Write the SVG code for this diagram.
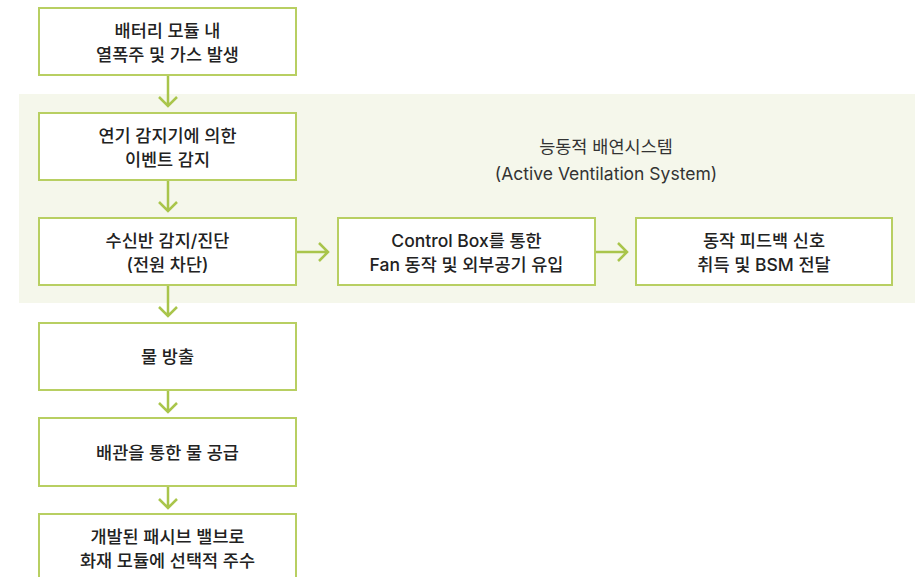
<svg xmlns="http://www.w3.org/2000/svg" width="918" height="577" viewBox="0 0 918 577">
<style>
.box{fill:#ffffff;stroke:#b8cf62;stroke-width:2}
.t{font-family:Inter,"Noto Sans CJK KR","Noto Sans",sans-serif;font-size:17.5px;font-weight:500;fill:#222;text-anchor:middle}
.title{font-family:Inter,"Noto Sans CJK KR","Noto Sans",sans-serif;font-size:17.5px;font-weight:400;fill:#333;text-anchor:middle}
.ln{fill:none;stroke:#a9c54b;stroke-width:2.5}
</style>
<rect x="0" y="0" width="918" height="577" fill="#ffffff"/>
<g id="panel">
<rect x="19" y="94" width="896" height="209" fill="#f5f7eb"/>
<text class="title" x="606" y="153">능동적 배연시스템</text>
<text class="title" x="606" y="180">(Active Ventilation System)</text>
</g>
<g id="connectors">
<path class="ln" d="M168 75V106M159 97L168 106L177 97"/>
<path class="ln" d="M168 180V211M159 202L168 211L177 202"/>
<path class="ln" d="M168 285V316M159 307L168 316L177 307"/>
<path class="ln" d="M168 390V412M159 403L168 412L177 403"/>
<path class="ln" d="M168 486V508M159 499L168 508L177 499"/>
<path class="ln" d="M296 252H328M319 243L328 252L319 261"/>
<path class="ln" d="M595 252H627M618 243L627 252L618 261"/>
</g>
<g id="n1">
<rect class="box" x="39" y="8" width="257" height="67"/>
<text class="t" x="167.5" y="36.5">배터리 모듈 내</text>
<text class="t" x="167.5" y="60.5">열폭주 및 가스 발생</text>
</g>
<g id="n2">
<rect class="box" x="39" y="113" width="257" height="67"/>
<text class="t" x="167.5" y="141.5">연기 감지기에 의한</text>
<text class="t" x="167.5" y="165.5">이벤트 감지</text>
</g>
<g id="n3">
<rect class="box" x="39" y="218" width="257" height="67"/>
<text class="t" x="167.5" y="246.5">수신반 감지/진단</text>
<text class="t" x="167.5" y="270.5">(전원 차단)</text>
</g>
<g id="n4">
<rect class="box" x="338" y="218" width="257" height="67"/>
<text class="t" x="466.5" y="246.5">Control Box를 통한</text>
<text class="t" x="466.5" y="270.5">Fan 동작 및 외부공기 유입</text>
</g>
<g id="n5">
<rect class="box" x="636" y="218" width="256" height="67"/>
<text class="t" x="764" y="246.5">동작 피드백 신호</text>
<text class="t" x="764" y="270.5">취득 및 BSM 전달</text>
</g>
<g id="n6">
<rect class="box" x="39" y="323" width="257" height="67"/>
<text class="t" x="167.5" y="363">물 방출</text>
</g>
<g id="n7">
<rect class="box" x="39" y="418" width="257" height="68"/>
<text class="t" x="167.5" y="458.5">배관을 통한 물 공급</text>
</g>
<g id="n8">
<rect class="box" x="39" y="514" width="257" height="68"/>
<text class="t" x="167.5" y="542.5">개발된 패시브 밸브로</text>
<text class="t" x="167.5" y="566.5">화재 모듈에 선택적 주수</text>
</g>
</svg>
